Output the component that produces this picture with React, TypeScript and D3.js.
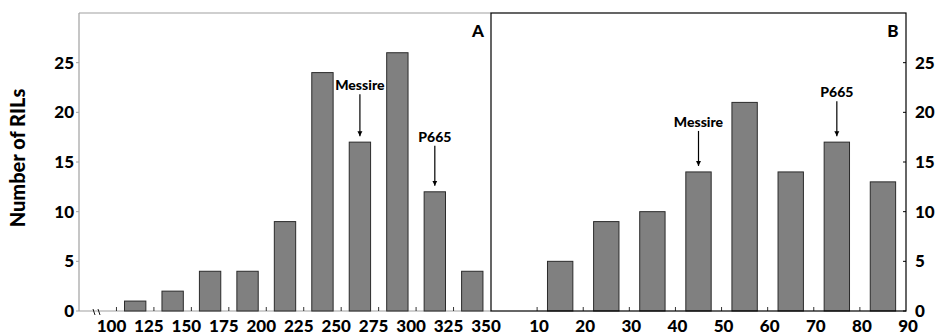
import React from "react";
import * as d3 from "d3";

// Panel A: bin edges (lower bound) and counts
const binsA = [100, 125, 150, 175, 200, 225, 250, 275, 300, 325];
const countsA = [1, 2, 4, 4, 9, 24, 17, 26, 12, 4];
const ticksA = [100, 125, 150, 175, 200, 225, 250, 275, 300, 325, 350];

// Panel B: bin edges (lower bound) and counts
const binsB = [0, 10, 20, 30, 40, 50, 60, 70, 80];
const countsB = [0, 5, 9, 10, 14, 21, 14, 17, 13];
const ticksB = [10, 20, 30, 40, 50, 60, 70, 80, 90];

const yTicks = [0, 5, 10, 15, 20, 25];

// Parent-line annotations: panel, bin lower bound, label
const annotations = [
  { panel: "A", bin: 250, label: "Messire" },
  { panel: "A", bin: 300, label: "P665" },
  { panel: "B", bin: 40, label: "Messire" },
  { panel: "B", bin: 70, label: "P665" },
];

const W = 939;
const H = 336;
const top = 13;
const bottom = 311;
const leftA = 79;
const mid = 491;
const rightB = 906;
const FONT = "Lato, 'Open Sans', Arial, sans-serif";
const WEIGHT = 900;
const TICK_FS = 17;
const BAR_FILL = "#808080";
const BAR_STROKE = "#2b2b2b";
const GRAY = "#a0a0a0";

export default function App() {
  const y = d3.scaleLinear().domain([0, 30]).range([bottom, top]);
  const xA = d3.scaleLinear().domain([75, 350]).range([leftA, mid]);
  const xB = d3.scaleLinear().domain([0, 90]).range([mid, rightB]);
  const wA = 25;
  const wB = 10;
  const fracA = 0.57;
  const fracB = 0.55;

  const barsA = binsA.map((b, i) => {
    const x0 = xA(b), x1 = xA(b + wA);
    const bw = (x1 - x0) * fracA;
    const cx = (x0 + x1) / 2;
    return { x: cx - bw / 2, w: bw, v: countsA[i], cx };
  });
  const barsB = binsB.map((b, i) => {
    const x0 = xB(b), x1 = xB(b + wB);
    const bw = (x1 - x0) * fracB;
    const cx = (x0 + x1) / 2;
    return { x: cx - bw / 2, w: bw, v: countsB[i], cx };
  });

  const arrowLen: Record<string, number> = { Messire: 42, P665: 40 };

  return (
    <div style={{ position: "fixed", left: 0, top: 0 }}>
      <svg width={W} height={H} style={{ display: "block", background: "#fff" }}>
        <defs>
          <marker id="ah" viewBox="0 0 10 10" refX="10" refY="5" markerWidth="5" markerHeight="6" orient="auto" markerUnits="userSpaceOnUse">
            <path d="M0,0 L10,5 L0,10 z" fill="#000" />
          </marker>
        </defs>

        {/* Panel A frame */}
        <line x1={leftA} y1={top} x2={mid} y2={top} stroke={GRAY} strokeWidth={1.2} />
        <line x1={leftA} y1={top} x2={leftA} y2={bottom} stroke={GRAY} strokeWidth={1.2} />
        <line x1={leftA} y1={bottom} x2={mid} y2={bottom} stroke={GRAY} strokeWidth={1.2} />
        {/* axis break */}
        <line x1={leftA + 14} y1={bottom - 2} x2={leftA + 16} y2={bottom + 4} stroke="#000" strokeWidth={0.9} />
        <line x1={leftA + 19} y1={bottom - 2} x2={leftA + 21} y2={bottom + 4} stroke="#000" strokeWidth={0.9} />

        {/* Panel A y ticks and labels */}
        {yTicks.map((t) => (
          <g key={"ya" + t}>
            <line x1={leftA - 3} x2={leftA} y1={y(t)} y2={y(t)} stroke={GRAY} />
            <text x={leftA - 5} y={y(t) + 6} textAnchor="end" fontFamily={FONT} fontWeight={WEIGHT} fontSize={TICK_FS}>
              {t}
            </text>
          </g>
        ))}

        {/* Panel A x ticks and labels */}
        {ticksA.map((t) => (
          <g key={"xa" + t}>
            {t < 350 && <line x1={xA(t)} x2={xA(t)} y1={bottom} y2={bottom - 4} stroke="#000" strokeWidth={0.8} />}
            <text x={xA(t) - 5} y={332} textAnchor="middle" fontFamily={FONT} fontWeight={WEIGHT} fontSize={TICK_FS}>
              {t}
            </text>
          </g>
        ))}

        {/* Panel A bars */}
        {barsA.map((b, i) => (
          <rect key={"ba" + i} x={b.x} y={y(b.v)} width={b.w} height={bottom - y(b.v)} fill={BAR_FILL} stroke={BAR_STROKE} strokeWidth={1} />
        ))}

        {/* Panel B bars */}
        {barsB.map((b, i) =>
          b.v > 0 ? (
            <rect key={"bb" + i} x={b.x} y={y(b.v)} width={b.w} height={bottom - y(b.v)} fill={BAR_FILL} stroke={BAR_STROKE} strokeWidth={1} />
          ) : null
        )}

        {/* Panel B frame */}
        <rect x={mid} y={top} width={rightB - mid} height={bottom - top} fill="none" stroke="#000" strokeWidth={1.2} />

        {/* Panel B x ticks and labels */}
        {ticksB.map((t) => (
          <g key={"xb" + t}>
            {t < 90 && <line x1={xB(t)} x2={xB(t)} y1={bottom} y2={bottom - 4} stroke="#000" strokeWidth={0.8} />}
            <text x={xB(t) + 2} y={332} textAnchor="middle" fontFamily={FONT} fontWeight={WEIGHT} fontSize={TICK_FS}>
              {t}
            </text>
          </g>
        ))}

        {/* Panel B right y ticks and labels */}
        {yTicks.map((t) => (
          <g key={"yb" + t}>
            <line x1={rightB - 3} x2={rightB} y1={y(t)} y2={y(t)} stroke="#000" />
            <text x={rightB + 9} y={y(t) + 6} textAnchor="start" fontFamily={FONT} fontWeight={WEIGHT} fontSize={TICK_FS}>
              {t}
            </text>
          </g>
        ))}

        {/* Panel letters */}
        <text x={478} y={37} textAnchor="middle" fontFamily={FONT} fontWeight={WEIGHT} fontSize={17}>A</text>
        <text x={893} y={37} textAnchor="middle" fontFamily={FONT} fontWeight={WEIGHT} fontSize={17}>B</text>

        {/* Y axis title */}
        <text
          transform={`translate(25, 158) rotate(-90)`}
          textAnchor="middle"
          fontFamily={FONT}
          fontWeight={WEIGHT}
          fontSize={20}
        >
          Number of RILs
        </text>

        {/* Parent annotations */}
        {annotations.map((a, i) => {
          const bars = a.panel === "A" ? barsA : barsB;
          const bins = a.panel === "A" ? binsA : binsB;
          const counts = a.panel === "A" ? countsA : countsB;
          const idx = bins.indexOf(a.bin);
          const bar = bars[idx];
          const tipY = y(counts[idx]) - 6;
          const len = a.panel === "A" ? arrowLen[a.label] : 35;
          const startY = tipY - len;
          return (
            <g key={"an" + i}>
              <text x={bar.cx} y={startY - 4} textAnchor="middle" fontFamily={FONT} fontWeight={WEIGHT} fontSize={14}>
                {a.label}
              </text>
              <line x1={bar.cx} x2={bar.cx} y1={startY} y2={tipY} stroke="#000" strokeWidth={1.2} markerEnd="url(#ah)" />
            </g>
          );
        })}
      </svg>
    </div>
  );
}
